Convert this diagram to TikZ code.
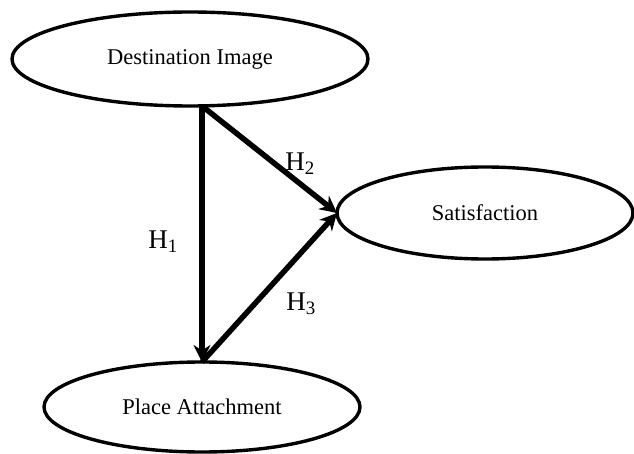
\documentclass[tikz,border=0pt]{standalone}
\usepackage{fontspec}
\setmainfont{Liberation Serif}
\usetikzlibrary{shapes.geometric,arrows.meta}
\begin{document}
\begin{tikzpicture}[x=1pt,y=-1pt,
  construct/.style={draw,line width=3.4pt,ellipse,inner sep=0pt,font=\fontsize{22.5}{24}\selectfont},
  path/.style={line width=5.5pt,-{Stealth[length=17pt,width=17pt]}},
  hyp/.style={font=\fontsize{27}{30}\selectfont,inner sep=0pt}]
\useasboundingbox (0,0) rectangle (634,454);
\node[construct,minimum width=356pt,minimum height=94pt] (dest) at (190,59) {Destination Image};
\node[construct,minimum width=296pt,minimum height=92pt] (sat) at (485,213) {Satisfaction};
\node[construct,minimum width=316pt,minimum height=90pt] (place) at (202,407) {Place Attachment};
\coordinate (top) at (202,106);
\coordinate (satin) at (337,213);
\coordinate (placein) at (202,362);
\draw[path] (top) -- (placein);
\draw[path] (top) -- (satin);
\draw[path] (placein) -- (satin);
\node[hyp] (h1) at (163,242) {H\textsubscript{1}};
\node[hyp] (h2) at (300,164) {H\textsubscript{2}};
\node[hyp] (h3) at (301,304) {H\textsubscript{3}};
\end{tikzpicture}
\end{document}
